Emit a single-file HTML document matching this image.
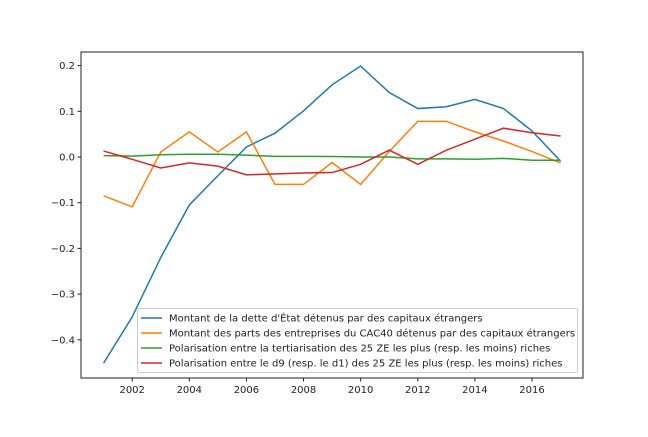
<!DOCTYPE html>
<html><head><meta charset="utf-8"><style>
body{margin:0;background:#fff}
svg text{font-family:"DejaVu Sans","Liberation Sans",sans-serif;font-size:10px;fill:#222}
</style></head><body>
<svg id="c" width="648" height="432"></svg>
<script>
const years=[2001,2002,2003,2004,2005,2006,2007,2008,2009,2010,2011,2012,2013,2014,2015,2016,2017];
const dette=[-0.451,-0.35,-0.22,-0.105,-0.041,0.022,0.052,0.101,0.158,0.199,0.141,0.106,0.110,0.126,0.106,0.057,-0.009];
const cac40=[-0.085,-0.109,0.011,0.055,0.011,0.055,-0.060,-0.060,-0.012,-0.060,0.012,0.078,0.078,0.055,0.035,0.012,-0.013];
const tert=[0.003,0.002,0.005,0.006,0.006,0.004,0.0015,0.0015,0.001,0,0,-0.004,-0.004,-0.005,-0.003,-0.007,-0.007];
const d9d1=[0.013,-0.005,-0.024,-0.013,-0.02,-0.039,-0.037,-0.035,-0.034,-0.016,0.015,-0.016,0.015,0.039,0.063,0.053,0.046];
const xTicks=[2002,2004,2006,2008,2010,2012,2014,2016];
const yTicks=[0.2,0.1,0,-0.1,-0.2,-0.3,-0.4];
const yTickLabels=["0.2","0.1","0.0","\u22120.1","\u22120.2","\u22120.3","\u22120.4"];
const seriesNames=["Montant de la dette d'État détenus par des capitaux étrangers","Montant des parts des entreprises du CAC40 détenus par des capitaux étrangers","Polarisation entre la tertiarisation des 25 ZE les plus (resp. les moins) riches","Polarisation entre le d9 (resp. le d1) des 25 ZE les plus (resp. les moins) riches"];
const series=[dette,cac40,tert,d9d1];
const colors=["#1f77b4","#ff7f0e","#2ca02c","#d62728"];
const L=81,R=583,T=52,B=378;
const X=y=>189.3+(y-2004)*28.56;
const Y=v=>157-v*457;
const svg=document.getElementById('c');
const NS="http://www.w3.org/2000/svg";
function mk(t,a,p){const e=document.createElementNS(NS,t);for(const k in a)e.setAttribute(k,a[k]);(p||svg).appendChild(e);return e;}
series.forEach((s,i)=>{
 const p=mk('polyline',{points:s.map((v,j)=>X(years[j])+','+Y(v)).join(' '),fill:'none',stroke:colors[i],'stroke-width':1.5});
 
 
});
const fr=mk('rect',{x:L,y:T,width:R-L,height:B-T,fill:'none',stroke:'#222','stroke-width':1});


xTicks.forEach(t=>{
 mk('line',{x1:X(t),x2:X(t),y1:B,y2:B+3.5,stroke:'#222'});
 const tx=mk('text',{x:X(t),y:B+15,'text-anchor':'middle'});tx.textContent=t;
 
 
});
yTicks.forEach((t,i)=>{
 mk('line',{x1:L-3.5,x2:L,y1:Y(t),y2:Y(t),stroke:'#222'});
 const tx=mk('text',{x:L-6,y:Y(t)+3.5,'text-anchor':'end'});tx.textContent=yTickLabels[i];
 
 
});
const lg=mk('g',{});


mk('rect',{x:137.5,y:308.5,width:440,height:64,rx:2,fill:'#fff','fill-opacity':0.8,stroke:'#ccc'},lg);
seriesNames.forEach((n,i)=>{
 const yy=318+i*15;
 mk('line',{x1:141,x2:162,y1:yy,y2:yy,stroke:colors[i],'stroke-width':1.5},lg);
 const tx=mk('text',{x:169,y:yy+3.5},lg);tx.textContent=n;
 
 
});
</script>
</body></html>
